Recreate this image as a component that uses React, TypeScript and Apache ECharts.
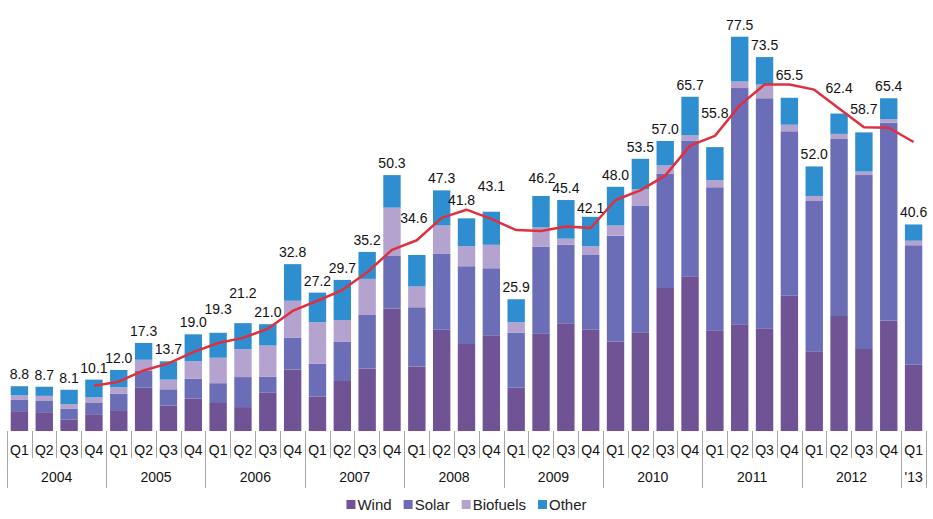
import React, { useEffect, useRef } from "react";
import * as echarts from "echarts";

const years = ["2004", "2005", "2006", "2007", "2008", "2009", "2010", "2011", "2012", "'13"];
const quarters = ["Q1", "Q2", "Q3", "Q4"];

const wind = [3.9, 3.7, 2.2, 3.3, 4.1, 8.5, 5.0, 6.4, 5.5, 4.7, 7.6, 12.1, 6.8, 10.0, 12.3, 24.1, 12.7, 19.9, 17.1, 18.8, 8.5, 19.2, 21.2, 19.9, 17.6, 19.4, 28.1, 30.4, 19.8, 21.0, 20.2, 26.6, 15.7, 22.6, 16.1, 21.7, 13.0];
const solar = [2.2, 2.2, 2.2, 2.2, 3.2, 3.3, 3.2, 3.9, 3.9, 5.9, 3.1, 6.2, 6.4, 7.6, 10.5, 10.3, 11.6, 14.9, 15.3, 13.2, 10.8, 17.0, 15.4, 14.7, 20.8, 24.9, 22.5, 26.7, 28.1, 46.4, 45.2, 32.3, 29.5, 34.8, 34.2, 38.9, 23.5];
const biofuels = [0.9, 1.0, 0.9, 1.1, 1.3, 2.2, 1.9, 3.4, 5.0, 5.5, 6.1, 7.3, 8.2, 4.2, 7.1, 9.5, 4.1, 5.6, 3.9, 4.6, 2.1, 3.8, 1.2, 1.7, 2.0, 3.2, 1.6, 1.0, 1.4, 1.3, 2.7, 1.3, 1.0, 1.0, 0.7, 0.7, 0.9];
const other = [1.8, 1.8, 2.8, 3.5, 3.4, 3.3, 3.6, 5.3, 4.9, 5.1, 4.2, 7.2, 5.8, 7.9, 5.3, 6.4, 6.2, 6.9, 5.5, 6.5, 4.5, 6.2, 7.6, 5.8, 7.6, 6.0, 4.8, 7.6, 6.5, 8.8, 5.4, 5.3, 5.8, 4.0, 7.7, 4.1, 3.2];
const totals = [8.8, 8.7, 8.1, 10.1, 12.0, 17.3, 13.7, 19.0, 19.3, 21.2, 21.0, 32.8, 27.2, 29.7, 35.2, 50.3, 34.6, 47.3, 41.8, 43.1, 25.9, 46.2, 45.4, 42.1, 48.0, 53.5, 57.0, 65.7, 55.8, 77.5, 73.5, 65.5, 52.0, 62.4, 58.7, 65.4, 40.6];
const movingAvg = [null, null, null, 8.9, 9.7, 11.9, 13.3, 15.5, 17.3, 18.3, 20.1, 23.6, 25.6, 27.7, 31.2, 35.6, 37.5, 41.9, 43.5, 41.7, 39.5, 39.3, 40.2, 39.9, 45.4, 47.3, 50.2, 56.1, 58.0, 64.0, 68.1, 68.1, 67.1, 63.4, 59.7, 59.6, 56.8];

// label nudges (style only) to keep total labels clear of the line
const labelNudge: Record<number, [number, number]> = {
  8: [0, -12], 9: [0, -18], 16: [-3, -25], 18: [-5, -6], 19: [0, -14], 21: [1, -6],
  23: [0, 3], 28: [0, -22], 31: [0, -11], 33: [0, -14], 34: [0, -11],
};

const FONT = "'Liberation Sans', Arial, sans-serif";

export default function App() {
  const ref = useRef<HTMLDivElement>(null);
  useEffect(() => {
    document.body.style.margin = "0";
    const chart = echarts.init(ref.current!, null, { renderer: "svg" });
    const n = totals.length;
    const cats: string[] = [];
    for (let i = 0; i < n; i++) {
      const y = Math.floor(i / 4);
      cats.push(years[y] + " " + quarters[i % 4]);
    }
    const halfCount = n * 2 + 1;
    const halfCats: string[] = [];
    const halfLabels: string[] = [];
    for (let i = 0; i < halfCount; i++) {
      halfCats.push(String(i));
      let lab = "";
      const yearIdx = Math.floor(i / 8);
      const yearQuarters = Math.min(4, n - yearIdx * 4);
      if (yearQuarters > 0 && i === yearIdx * 8 + yearQuarters) lab = years[yearIdx];
      halfLabels.push(lab);
    }
    const yearBoundary = (i: number) => i % 8 === 0 || i === halfCount - 1;
    const yearLabelAt = (i: number) => halfLabels[i] !== "";

    const colors = ["#6F5394", "#6B6DB6", "#B4A3CF", "#2F8ECF"];
    const barBase = { type: "bar", stack: "total", barCategoryGap: "30%", xAxisIndex: 0 };

    chart.setOption({
      animation: false,
      textStyle: { fontFamily: FONT },
      grid: { left: 7, right: 7, top: 24, bottom: 88 },
      legend: {
        data: ["Wind", "Solar", "Biofuels", "Other"],
        bottom: 2,
        icon: "rect",
        itemWidth: 9,
        itemHeight: 9,
        itemGap: 12,
        textStyle: { fontSize: 15, color: "#222", fontFamily: FONT, padding: [0, 0, 0, -3] },
      },
      xAxis: [
        {
          type: "category",
          data: cats,
          position: "bottom",
          axisLine: { show: false },
          axisTick: { show: true, length: 27, interval: 0, lineStyle: { color: "#a6a6a6" } },
          axisLabel: {
            interval: 0,
            fontSize: 14,
            color: "#111",
            margin: 12,
            formatter: (v: string) => v.split(" ")[1],
          },
        },
        {
          type: "category",
          data: halfCats,
          boundaryGap: false,
          position: "bottom",
          axisLine: { show: false },
          axisTick: {
            show: true,
            length: 57,
            interval: (i: number) => yearBoundary(i),
            lineStyle: { color: "#a6a6a6" },
          },
          axisLabel: {
            interval: (i: number) => yearLabelAt(i),
            fontSize: 14,
            color: "#111",
            margin: 39,
            formatter: (v: string) => halfLabels[Number(v)],
          },
        },
      ],
      yAxis: {
        type: "value",
        min: 0,
        max: 80,
        show: false,
        splitLine: { show: false },
      },
      series: [
        { ...barBase, name: "Wind", data: wind, itemStyle: { color: colors[0] } },
        { ...barBase, name: "Solar", data: solar, itemStyle: { color: colors[1] } },
        { ...barBase, name: "Biofuels", data: biofuels, itemStyle: { color: colors[2] } },
        {
          ...barBase,
          name: "Other",
          itemStyle: { color: colors[3] },
          data: other.map((v, i) =>
            labelNudge[i] ? { value: v, label: { offset: labelNudge[i] } } : v
          ),
          label: {
            show: true,
            position: "top",
            distance: 5,
            fontSize: 14,
            color: "#111",
            fontFamily: FONT,
            formatter: (p: any) => totals[p.dataIndex].toFixed(1),
          },
        },
        {
          type: "line",
          name: "Moving average",
          data: movingAvg,
          xAxisIndex: 0,
          symbol: "none",
          z: 5,
          lineStyle: { color: "#E0303E", width: 2.5 },
          itemStyle: { color: "#E0303E" },
        },
      ],
    });
    return () => chart.dispose();
  }, []);
  return <div ref={ref} style={{ width: 933, height: 519 }} />;
}
